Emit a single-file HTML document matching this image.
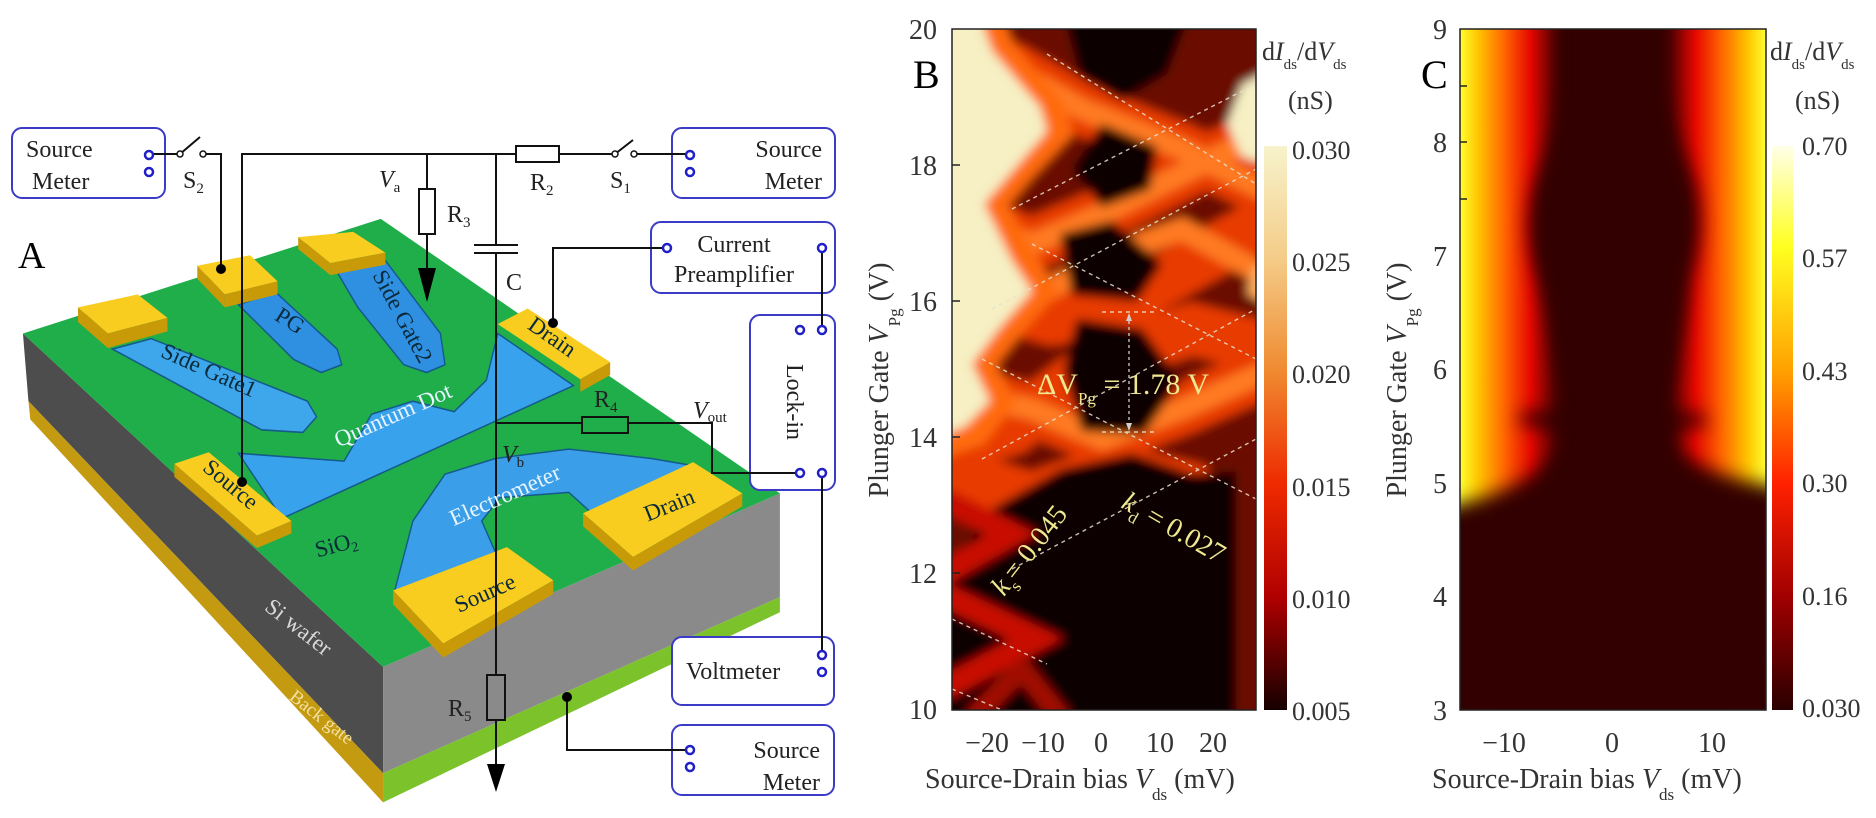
<!DOCTYPE html>
<html><head><meta charset="utf-8">
<style>
html,body{margin:0;padding:0;background:#fff;}
body{width:1876px;height:818px;position:relative;overflow:hidden;font-family:"Liberation Serif",serif;}
svg{position:absolute;left:0;top:0;}
</style></head>
<body>
<!-- Panel A shapes (zoom coordinates) -->
<svg width="840" height="818" viewBox="0 0 1831 1570" preserveAspectRatio="none">
  <polygon points="50,640 835,1280 835,1484 62,770" fill="#4d4d4d"/>
  <polygon points="62,770 835,1484 835,1540 66,805" fill="#c49a10"/>
  <polygon points="835,1280 1700,947 1700,1146 835,1484" fill="#8a8a8a"/>
  <polygon points="835,1484 1700,1146 1700,1175 835,1540" fill="#7cc22a"/>
  <polygon points="50,640 830,420 1700,947 835,1280" fill="#1fae4a"/>
  <polygon points="245,670 330,650 670,770 690,800 660,830 570,825" fill="#3ea6ea" stroke="#145a8a" stroke-width="3"/>
  <polygon points="520,585 600,560 735,670 745,700 700,715 640,690" fill="#2f8fe0" stroke="#145a8a" stroke-width="3"/>
  <polygon points="730,515 840,500 960,640 970,700 930,715 880,700 780,590" fill="#2f8fe0" stroke="#145a8a" stroke-width="3"/>
  <polygon points="520,870 750,885 810,795 900,770 990,790 1060,730 1085,640 1250,740 615,995" fill="#38a2ec" stroke="#145a8a" stroke-width="3"/>
  <polygon points="860,1135 900,1000 970,910 1080,880 1240,862 1420,880 1520,895 1290,985 1240,945 1090,955 1050,1000 1080,1060" fill="#3a9fe8" stroke="#145a8a" stroke-width="3"/>
  <g fill="#f8cd20">
    <polygon points="170,590 300,565 365,610 235,640"/>
    <polygon points="430,510 545,490 605,540 490,565"/>
    <polygon points="650,455 770,445 840,485 720,505"/>
    <polygon points="380,890 455,868 635,1000 560,1028"/>
    <polygon points="1085,622 1150,592 1330,695 1265,728"/>
    <polygon points="857,1133 1105,1050 1206,1114 966,1235"/>
    <polygon points="1271,985 1511,887 1618,947 1380,1069"/>
  </g>
  <g fill="#c99a08">
    <polygon points="170,590 235,640 235,668 170,618"/>
    <polygon points="235,640 365,610 365,636 235,668"/>
    <polygon points="430,510 490,565 490,590 430,535"/>
    <polygon points="490,565 605,540 605,565 490,590"/>
    <polygon points="650,455 720,505 720,528 650,478"/>
    <polygon points="720,505 840,485 840,508 720,528"/>
    <polygon points="380,890 560,1028 560,1052 380,915"/>
    <polygon points="560,1028 635,1000 635,1024 560,1052"/>
    <polygon points="1265,728 1330,695 1330,720 1265,752"/>
    <polygon points="857,1133 966,1235 966,1262 857,1160"/>
    <polygon points="966,1235 1206,1114 1206,1140 966,1262"/>
    <polygon points="1380,1069 1618,947 1618,972 1380,1095"/>
    <polygon points="1271,985 1380,1069 1380,1095 1271,1010"/>
  </g>
</svg>

<svg width="840" height="818" viewBox="0 0 840 818" font-family="Liberation Serif, serif">
  <g fill="#fff" stroke="#3b3bc8" stroke-width="2">
    <rect x="12" y="128" width="153" height="70" rx="10"/>
    <rect x="672" y="128" width="163" height="70" rx="10"/>
    <rect x="651" y="222" width="184" height="71" rx="10"/>
    <rect x="750" y="315" width="85" height="175" rx="10"/>
    <rect x="672" y="637" width="162" height="68" rx="10"/>
    <rect x="672" y="725" width="162" height="70" rx="10"/>
  </g>
  <g fill="none" stroke="#111" stroke-width="2">
    <polyline points="153,154 180,154 200,137"/>
    <polyline points="203,154 221,154 221,269"/>
    <polyline points="242,482 242,154 516,154"/>
    <polyline points="559,154 615,154 633,140"/>
    <line x1="634" y1="154" x2="686" y2="154"/>
    <line x1="427" y1="154" x2="427" y2="189"/>
    <rect x="419" y="189" width="16" height="45"/>
    <line x1="427" y1="234" x2="427" y2="270"/>
    <rect x="516" y="146" width="43" height="16"/>
    <line x1="496" y1="154" x2="496" y2="245"/>
    <line x1="474" y1="245" x2="518" y2="245"/>
    <line x1="474" y1="253" x2="518" y2="253"/>
    <line x1="496" y1="253" x2="496" y2="675"/>
    <rect x="487" y="675" width="18" height="45"/>
    <line x1="496" y1="720" x2="496" y2="765"/>
    <polyline points="496,423 582,423"/>
    <rect x="582" y="417" width="46" height="16"/>
    <polyline points="628,423 712,423 712,473 796,473"/>
    <polyline points="553,323 553,248 663,248"/>
    <line x1="822" y1="252" x2="822" y2="326"/>
    <line x1="822" y1="477" x2="822" y2="651"/>
    <polyline points="567,697 567,750 686,750"/>
  </g>
  <polygon points="418,268 436,268 427,302" fill="#000"/>
  <polygon points="487,764 505,764 496,792" fill="#000"/>
  <g fill="#000"><circle cx="221" cy="269" r="5"/><circle cx="242" cy="482" r="5"/><circle cx="553" cy="323" r="5"/><circle cx="567" cy="697" r="5"/></g>
  <g fill="#fff" stroke="#111" stroke-width="1.5"><circle cx="180" cy="154" r="3"/><circle cx="203" cy="154" r="3"/><circle cx="615" cy="154" r="3"/><circle cx="634" cy="154" r="3"/></g>
  <g fill="none" stroke="#2020c8" stroke-width="2.5">
    <circle cx="149" cy="155" r="4"/><circle cx="149" cy="172" r="4"/>
    <circle cx="690" cy="155" r="4"/><circle cx="690" cy="172" r="4"/>
    <circle cx="667" cy="248" r="4"/><circle cx="822" cy="248" r="4"/>
    <circle cx="800" cy="330" r="4"/><circle cx="822" cy="330" r="4"/>
    <circle cx="800" cy="473" r="4"/><circle cx="822" cy="473" r="4"/>
    <circle cx="822" cy="655" r="4"/><circle cx="822" cy="672" r="4"/>
    <circle cx="690" cy="750" r="4"/><circle cx="690" cy="767" r="4"/>
  </g>
  <g font-size="24" fill="#222">
    <text x="26" y="157">Source</text><text x="32" y="189">Meter</text>
    <text x="822" y="157" text-anchor="end">Source</text><text x="822" y="189" text-anchor="end">Meter</text>
    <text x="734" y="252" text-anchor="middle">Current</text><text x="734" y="282" text-anchor="middle">Preamplifier</text>
    <text transform="translate(787,402) rotate(90)" text-anchor="middle">Lock-in</text>
    <text x="686" y="679">Voltmeter</text>
    <text x="820" y="758" text-anchor="end">Source</text><text x="820" y="790" text-anchor="end">Meter</text>
    <text x="183" y="188">S<tspan font-size="15" dy="5">2</tspan></text>
    <text x="610" y="188">S<tspan font-size="15" dy="5">1</tspan></text>
    <text x="530" y="190">R<tspan font-size="15" dy="5">2</tspan></text>
    <text x="447" y="222">R<tspan font-size="15" dy="5">3</tspan></text>
    <text x="594" y="407">R<tspan font-size="15" dy="5">4</tspan></text>
    <text x="448" y="716">R<tspan font-size="15" dy="5">5</tspan></text>
    <text x="506" y="290">C</text>
    <text x="379" y="187" font-style="italic">V<tspan font-size="15" dy="5" font-style="normal">a</tspan></text>
    <text x="693" y="418" font-style="italic">V<tspan font-size="15" dy="4" font-style="normal">out</tspan></text>
    <text x="502" y="462" font-style="italic">V<tspan font-size="15" dy="5" font-style="normal">b</tspan></text>
  </g>
  <text x="18" y="268" font-size="38" fill="#000">A</text>
  <g font-size="23" fill="#0a2a3a" text-anchor="middle">
    <text transform="translate(286,327) rotate(32)">PG</text>
    <text transform="translate(206,377) rotate(24)">Side Gate1</text>
    <text transform="translate(396,320) rotate(62)">Side Gate2</text>
    <text transform="translate(226,490) rotate(40)">Source</text>
    <text transform="translate(548,343) rotate(35)">Drain</text>
    <text transform="translate(672,512) rotate(-22)">Drain</text>
    <text transform="translate(488,600) rotate(-24)">Source</text>
    <text transform="translate(338,552) rotate(-15)">SiO<tspan font-size="14" dy="4">2</tspan></text>
  </g>
  <g font-size="23" fill="#e8f4ff" text-anchor="middle">
    <text transform="translate(396,422) rotate(-24)">Quantum Dot</text>
    <text transform="translate(508,502) rotate(-24)">Electrometer</text>
  </g>
  <text transform="translate(294,633) rotate(38)" font-size="23" fill="#d8d8d8" text-anchor="middle">Si wafer</text>
  <text transform="translate(318,722) rotate(38)" font-size="19" fill="#f4e0a0" text-anchor="middle">Back gate</text>
</svg>

<svg width="1876" height="818" viewBox="0 0 1876 818" font-family="Liberation Serif, serif">
  <defs>
    <filter id="bl" x="-10%" y="-10%" width="120%" height="120%"><feGaussianBlur stdDeviation="5"/></filter>
    <filter id="bl2" x="-10%" y="-10%" width="120%" height="120%"><feGaussianBlur stdDeviation="9"/></filter>
    <clipPath id="cB"><rect x="952" y="29" width="304" height="681"/></clipPath>
    <clipPath id="cC"><rect x="1460" y="29" width="306" height="681"/></clipPath>
    <linearGradient id="gC" x1="0" x2="1" y1="0" y2="0">
      <stop offset="0" stop-color="#ffff30"/><stop offset=".06" stop-color="#ffc400"/>
      <stop offset=".15" stop-color="#ff6000"/><stop offset=".23" stop-color="#e60800"/>
      <stop offset=".31" stop-color="#5a0000"/><stop offset=".36" stop-color="#300000"/>
      <stop offset=".64" stop-color="#300000"/><stop offset=".69" stop-color="#5a0000"/>
      <stop offset=".77" stop-color="#e60800"/><stop offset=".85" stop-color="#ff6000"/>
      <stop offset=".94" stop-color="#ffc400"/><stop offset="1" stop-color="#ffff30"/>
    </linearGradient>
    <linearGradient id="cbB" x1="0" x2="0" y1="0" y2="1">
      <stop offset="0" stop-color="#f7f3cc"/><stop offset=".2" stop-color="#f4cc88"/>
      <stop offset=".4" stop-color="#f08a30"/><stop offset=".6" stop-color="#ee2a00"/>
      <stop offset=".8" stop-color="#b00000"/><stop offset="1" stop-color="#150000"/>
    </linearGradient>
    <linearGradient id="cbC" x1="0" x2="0" y1="0" y2="1">
      <stop offset="0" stop-color="#ffffe8"/><stop offset=".18" stop-color="#ffff20"/>
      <stop offset=".4" stop-color="#ffa000"/><stop offset=".6" stop-color="#ff2000"/>
      <stop offset=".8" stop-color="#a00000"/><stop offset="1" stop-color="#2a0000"/>
    </linearGradient>
  </defs>

  <g clip-path="url(#cB)">
    <g transform="translate(952,29)">
      <g filter="url(#bl)">
        <rect x="-20" y="-20" width="344" height="720" fill="#6a0c00"/>
        <g fill="none" stroke="#e83a00" stroke-width="52">
          <polyline points="-10,15 60,40 130,80 230,120 320,165"/>
          <polyline points="-10,180 80,215 150,185 240,140 320,100"/>
          <polyline points="-10,260 100,290 160,280 230,240 320,190"/>
          <polyline points="-10,360 80,380 150,410 230,380 320,340"/>
          <polyline points="-10,420 60,400 150,330 240,300 320,320"/>
          <polyline points="-10,440 80,470 160,440 240,460 320,520"/>
        </g>
        <g fill="none" stroke="#ff7a20" stroke-width="22">
          <polyline points="-10,15 60,40 130,80 230,120 320,165"/>
          <polyline points="-10,180 80,215 150,185 240,140 320,100"/>
          <polyline points="-10,300 80,270 160,225 230,200 320,250"/>
          <polyline points="-10,360 80,380 150,410 230,380 320,340"/>
        </g>
        <polygon points="-20,-20 35,-20 50,20 100,78 108,102 72,140 42,175 72,230 92,262 58,300 30,335 50,372 25,405 -20,420" fill="#ff9a40" stroke="#ff6a10" stroke-width="24"/>
        <polygon points="-20,-20 25,-20 40,22 88,78 95,102 62,140 32,175 60,232 80,262 48,298 20,335 38,372 12,398 -20,410" fill="#f6f0c4"/>
        <polygon points="324,38 290,55 275,95 290,128 324,138" fill="#f6f0c4"/>
        <polygon points="324,230 300,240 295,265 324,280" fill="#ffb060"/>
        <polygon points="110,-20 240,-20 215,45 170,72 128,48" fill="#080000"/>
        <polygon points="150,95 205,118 198,160 150,178 120,140" fill="#080000"/>
        <polygon points="108,205 160,192 210,235 185,272 120,266" fill="#080000"/>
        <polygon points="125,290 190,300 228,352 192,405 130,402 112,340" fill="#080000"/>
        <polygon points="-20,560 40,480 110,440 180,425 240,445 324,440 324,700 -20,700" fill="#070000"/>
        <polyline points="-10,470 60,505 -10,545" fill="none" stroke="#c81000" stroke-width="24"/>
        <polyline points="-10,565 85,610 -10,660" fill="none" stroke="#c81000" stroke-width="24"/>
        <polyline points="20,690 70,640 110,690" fill="none" stroke="#a00800" stroke-width="20"/>
        <rect x="284" y="430" width="40" height="260" fill="#6a0800"/>
      </g>
      <g fill="none" stroke="#e8e0d0" stroke-width="1.4" stroke-dasharray="4,4" opacity=".85">
        <line x1="95" y1="25" x2="304" y2="155"/>
        <line x1="60" y1="180" x2="304" y2="55"/>
        <line x1="40" y1="280" x2="304" y2="140"/>
        <line x1="80" y1="215" x2="304" y2="330"/>
        <line x1="30" y1="330" x2="304" y2="470"/>
        <line x1="30" y1="430" x2="304" y2="280"/>
        <line x1="60" y1="540" x2="304" y2="410"/>
        <line x1="0" y1="590" x2="95" y2="635"/>
        <line x1="0" y1="660" x2="95" y2="700"/>
        <line x1="150" y1="283" x2="205" y2="283"/>
        <line x1="150" y1="403" x2="205" y2="403"/>
      </g>
      <line x1="177" y1="286" x2="177" y2="400" stroke="#d0d0d0" stroke-width="1.3" stroke-dasharray="3,3"/>
      <polygon points="174,292 180,292 177,284" fill="#d0d0d0"/><polygon points="174,394 180,394 177,402" fill="#d0d0d0"/>
      <g fill="#eee890" font-size="30">
        <text x="85" y="365">ΔV<tspan font-size="17" dy="10">Pg</tspan><tspan dy="-10"> =  1.78 V</tspan></text>
        <text transform="translate(168,478) rotate(30)" font-size="28"><tspan font-style="italic">k</tspan><tspan font-size="17" dy="8">d</tspan><tspan dy="-8"> = 0.027</tspan></text>
        <text transform="translate(52,568) rotate(-52)" font-size="28"><tspan font-style="italic">k</tspan><tspan font-size="17" dy="8">s</tspan><tspan dy="-8">= 0.045</tspan></text>
      </g>
    </g>
  </g>
  <rect x="952" y="29" width="304" height="681" fill="none" stroke="#222" stroke-width="1.5"/>
  <g stroke="#222" stroke-width="1.5">
    <line x1="952" y1="165" x2="960" y2="165"/><line x1="952" y1="301" x2="960" y2="301"/>
    <line x1="952" y1="437" x2="960" y2="437"/><line x1="952" y1="573" x2="960" y2="573"/>
  </g>
  <rect x="1264" y="146" width="23" height="564" fill="url(#cbB)"/>
  <g font-size="28" fill="#333">
    <g text-anchor="end">
      <text x="937" y="39">20</text><text x="937" y="175">18</text><text x="937" y="311">16</text>
      <text x="937" y="447">14</text><text x="937" y="583">12</text><text x="937" y="719">10</text>
    </g>
    <g text-anchor="middle">
      <text x="987" y="752">−20</text><text x="1043" y="752">−10</text><text x="1101" y="752">0</text>
      <text x="1160" y="752">10</text><text x="1213" y="752">20</text>
    </g>
    <text x="925" y="788">Source-Drain bias <tspan font-style="italic">V</tspan><tspan font-size="17" dy="12">ds</tspan><tspan dy="-12"> (mV)</tspan></text>
    <text transform="translate(888,380) rotate(-90)" text-anchor="middle">Plunger Gate <tspan font-style="italic">V</tspan><tspan font-size="17" dy="12">Pg</tspan><tspan dy="-12"> (V)</tspan></text>
    <g font-size="26">
      <text x="1292" y="159">0.030</text><text x="1292" y="271">0.025</text><text x="1292" y="383">0.020</text>
      <text x="1292" y="496">0.015</text><text x="1292" y="608">0.010</text><text x="1292" y="720">0.005</text>
    </g>
    <text x="1262" y="60" font-size="26">d<tspan font-style="italic">I</tspan><tspan font-size="15" dy="9">ds</tspan><tspan dy="-9">/d</tspan><tspan font-style="italic">V</tspan><tspan font-size="15" dy="9">ds</tspan></text>
    <text x="1288" y="109" font-size="26">(nS)</text>
    <text x="1770" y="60" font-size="26">d<tspan font-style="italic">I</tspan><tspan font-size="15" dy="9">ds</tspan><tspan dy="-9">/d</tspan><tspan font-style="italic">V</tspan><tspan font-size="15" dy="9">ds</tspan></text>
    <text x="1795" y="109" font-size="26">(nS)</text>
  </g>
  <text x="913" y="88" font-size="40" fill="#000">B</text>
  <text x="1421" y="88" font-size="40" fill="#000">C</text>

  <g clip-path="url(#cC)">
    <g transform="translate(1460,29)">
      <rect x="0" y="0" width="306" height="681" fill="url(#gC)"/>
      <g filter="url(#bl2)">
        <path d="M100,-20 L100,60 Q95,110 80,140 Q60,190 75,240 Q90,290 95,330 Q110,390 100,420 Q80,450 20,470 L-20,480 L-20,700 L330,700 L330,460 Q250,450 215,420 Q205,380 215,340 Q225,290 230,250 Q250,190 230,140 Q210,100 205,60 L205,-20 Z" fill="#300000"/>
        <path d="M60,385 Q110,375 140,400 L140,410 Q100,400 60,395 Z" fill="#300000"/>
        <path d="M240,385 Q200,380 170,400 L170,410 Q210,400 250,395 Z" fill="#300000"/>
      </g>
    </g>
  </g>
  <rect x="1460" y="29" width="306" height="681" fill="none" stroke="#222" stroke-width="1.5"/>
  <g stroke="#222" stroke-width="1.5">
    <line x1="1460" y1="86" x2="1467" y2="86"/><line x1="1460" y1="142" x2="1467" y2="142"/>
    <line x1="1460" y1="199" x2="1467" y2="199"/>
  </g>
  <rect x="1772" y="146" width="21" height="564" fill="url(#cbC)"/>
  <g font-size="28" fill="#333">
    <g text-anchor="end">
      <text x="1447" y="39">9</text><text x="1447" y="152">8</text><text x="1447" y="266">7</text>
      <text x="1447" y="379">6</text><text x="1447" y="493">5</text><text x="1447" y="606">4</text><text x="1447" y="720">3</text>
    </g>
    <g text-anchor="middle">
      <text x="1504" y="752">−10</text><text x="1612" y="752">0</text><text x="1712" y="752">10</text>
    </g>
    <text x="1432" y="788">Source-Drain bias <tspan font-style="italic">V</tspan><tspan font-size="17" dy="12">ds</tspan><tspan dy="-12"> (mV)</tspan></text>
    <text transform="translate(1406,380) rotate(-90)" text-anchor="middle">Plunger Gate <tspan font-style="italic">V</tspan><tspan font-size="17" dy="12">Pg</tspan><tspan dy="-12"> (V)</tspan></text>
    <g font-size="26">
      <text x="1802" y="155">0.70</text><text x="1802" y="267">0.57</text><text x="1802" y="380">0.43</text>
      <text x="1802" y="492">0.30</text><text x="1802" y="605">0.16</text><text x="1802" y="717">0.030</text>
    </g>
  </g>
</svg>
</body></html>
